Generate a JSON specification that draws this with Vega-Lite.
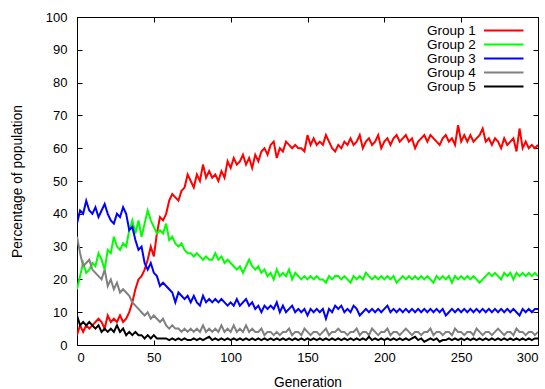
{
  "$schema": "https://vega.github.io/schema/vega-lite/v6.json",
  "width": 461,
  "height": 328,
  "autosize": "none",
  "padding": {"left": 77, "top": 17, "right": 7, "bottom": 44},
  "config": {
    "font": "Liberation Sans",
    "view": {"stroke": "black", "strokeWidth": 1},
    "axis": {"grid": false, "domain": false, "tickColor": "black", "tickSize": -5, "labelFontSize": 13, "labelColor": "black", "titleFontSize": 13.75, "titleFontWeight": "normal", "titleColor": "black", "labelFont": "Liberation Sans", "titleFont": "Liberation Sans"}
  },
  "data": {"values": [
    {"g":0,"Group 1":3,"Group 2":17,"Group 3":37,"Group 4":33,"Group 5":9},
    {"g":2,"Group 1":6,"Group 2":21,"Group 3":41,"Group 4":28,"Group 5":6},
    {"g":4,"Group 1":4,"Group 2":25,"Group 3":40,"Group 4":24,"Group 5":7},
    {"g":6,"Group 1":6,"Group 2":22,"Group 3":44,"Group 4":25,"Group 5":6},
    {"g":8,"Group 1":5,"Group 2":23,"Group 3":41,"Group 4":26,"Group 5":7},
    {"g":10,"Group 1":6,"Group 2":25,"Group 3":40,"Group 4":23,"Group 5":6},
    {"g":12,"Group 1":7,"Group 2":24,"Group 3":42,"Group 4":22,"Group 5":5},
    {"g":14,"Group 1":8,"Group 2":28,"Group 3":39,"Group 4":21,"Group 5":6},
    {"g":16,"Group 1":7,"Group 2":26,"Group 3":41,"Group 4":20,"Group 5":4},
    {"g":18,"Group 1":5,"Group 2":23,"Group 3":43,"Group 4":23,"Group 5":5},
    {"g":20,"Group 1":9,"Group 2":29,"Group 3":40,"Group 4":18,"Group 5":4},
    {"g":22,"Group 1":7,"Group 2":28,"Group 3":38,"Group 4":20,"Group 5":5},
    {"g":24,"Group 1":8,"Group 2":33,"Group 3":37,"Group 4":17,"Group 5":4},
    {"g":26,"Group 1":7,"Group 2":30,"Group 3":40,"Group 4":19,"Group 5":6},
    {"g":28,"Group 1":9,"Group 2":29,"Group 3":39,"Group 4":16,"Group 5":4},
    {"g":30,"Group 1":7,"Group 2":31,"Group 3":42,"Group 4":17,"Group 5":5},
    {"g":32,"Group 1":8,"Group 2":30,"Group 3":40,"Group 4":16,"Group 5":3},
    {"g":34,"Group 1":10,"Group 2":35,"Group 3":35,"Group 4":15,"Group 5":4},
    {"g":36,"Group 1":13,"Group 2":38,"Group 3":36,"Group 4":13,"Group 5":3},
    {"g":38,"Group 1":17,"Group 2":34,"Group 3":32,"Group 4":12,"Group 5":4},
    {"g":40,"Group 1":20,"Group 2":38,"Group 3":29,"Group 4":11,"Group 5":3},
    {"g":42,"Group 1":21,"Group 2":33,"Group 3":30,"Group 4":10,"Group 5":3},
    {"g":44,"Group 1":23,"Group 2":37,"Group 3":25,"Group 4":9,"Group 5":2},
    {"g":46,"Group 1":26,"Group 2":41,"Group 3":23,"Group 4":10,"Group 5":3},
    {"g":48,"Group 1":30,"Group 2":38,"Group 3":25,"Group 4":8,"Group 5":2},
    {"g":50,"Group 1":27,"Group 2":36,"Group 3":22,"Group 4":9,"Group 5":3},
    {"g":52,"Group 1":34,"Group 2":34,"Group 3":21,"Group 4":8,"Group 5":2},
    {"g":54,"Group 1":39,"Group 2":35,"Group 3":18,"Group 4":7,"Group 5":2},
    {"g":56,"Group 1":38,"Group 2":34,"Group 3":19,"Group 4":8,"Group 5":2},
    {"g":58,"Group 1":40,"Group 2":37,"Group 3":18,"Group 4":6,"Group 5":2},
    {"g":60,"Group 1":44,"Group 2":32,"Group 3":17,"Group 4":5,"Group 5":1.5},
    {"g":62,"Group 1":46,"Group 2":33,"Group 3":16,"Group 4":6,"Group 5":2},
    {"g":64,"Group 1":45,"Group 2":31,"Group 3":13,"Group 4":5,"Group 5":1.5},
    {"g":66,"Group 1":44,"Group 2":30,"Group 3":16,"Group 4":5,"Group 5":2},
    {"g":68,"Group 1":47,"Group 2":31,"Group 3":15,"Group 4":4,"Group 5":1.5},
    {"g":70,"Group 1":48,"Group 2":29,"Group 3":14,"Group 4":5,"Group 5":2},
    {"g":72,"Group 1":52,"Group 2":28,"Group 3":15,"Group 4":4,"Group 5":1.5},
    {"g":74,"Group 1":50,"Group 2":28,"Group 3":13,"Group 4":5,"Group 5":1.5},
    {"g":76,"Group 1":48,"Group 2":27,"Group 3":15,"Group 4":4,"Group 5":2},
    {"g":78,"Group 1":52,"Group 2":28,"Group 3":13,"Group 4":5,"Group 5":1.5},
    {"g":80,"Group 1":50,"Group 2":27,"Group 3":12,"Group 4":4,"Group 5":2},
    {"g":82,"Group 1":55,"Group 2":26,"Group 3":15,"Group 4":6,"Group 5":1.5},
    {"g":84,"Group 1":51,"Group 2":27,"Group 3":13,"Group 4":4,"Group 5":2},
    {"g":86,"Group 1":53,"Group 2":26,"Group 3":14,"Group 4":5,"Group 5":2.5},
    {"g":88,"Group 1":51,"Group 2":26,"Group 3":13,"Group 4":4,"Group 5":1.5},
    {"g":90,"Group 1":52,"Group 2":28,"Group 3":14,"Group 4":5,"Group 5":2},
    {"g":92,"Group 1":50,"Group 2":26,"Group 3":13,"Group 4":4,"Group 5":1.5},
    {"g":94,"Group 1":53,"Group 2":27,"Group 3":14,"Group 4":6,"Group 5":2},
    {"g":96,"Group 1":51,"Group 2":25,"Group 3":13,"Group 4":4,"Group 5":1.5},
    {"g":98,"Group 1":56,"Group 2":26,"Group 3":12,"Group 4":5,"Group 5":2},
    {"g":100,"Group 1":54,"Group 2":25,"Group 3":13,"Group 4":4,"Group 5":1.5},
    {"g":102,"Group 1":57,"Group 2":24,"Group 3":12,"Group 4":6,"Group 5":2},
    {"g":104,"Group 1":55,"Group 2":23,"Group 3":14,"Group 4":4,"Group 5":1.5},
    {"g":106,"Group 1":56,"Group 2":24,"Group 3":12,"Group 4":5,"Group 5":2},
    {"g":108,"Group 1":58,"Group 2":22,"Group 3":13,"Group 4":4,"Group 5":1.5},
    {"g":110,"Group 1":55,"Group 2":24,"Group 3":14,"Group 4":6,"Group 5":2},
    {"g":112,"Group 1":57,"Group 2":26,"Group 3":12,"Group 4":4,"Group 5":1.5},
    {"g":114,"Group 1":54,"Group 2":24,"Group 3":13,"Group 4":5,"Group 5":2},
    {"g":116,"Group 1":58,"Group 2":23,"Group 3":11,"Group 4":4,"Group 5":1.5},
    {"g":118,"Group 1":56,"Group 2":24,"Group 3":12,"Group 4":4,"Group 5":2},
    {"g":120,"Group 1":59,"Group 2":22,"Group 3":10,"Group 4":5,"Group 5":1.5},
    {"g":122,"Group 1":60,"Group 2":23,"Group 3":12,"Group 4":3,"Group 5":2},
    {"g":124,"Group 1":58,"Group 2":21,"Group 3":11,"Group 4":4,"Group 5":1.5},
    {"g":126,"Group 1":61,"Group 2":22,"Group 3":12,"Group 4":4,"Group 5":2},
    {"g":128,"Group 1":62,"Group 2":20,"Group 3":11,"Group 4":3,"Group 5":1.5},
    {"g":130,"Group 1":57,"Group 2":23,"Group 3":13,"Group 4":4,"Group 5":2},
    {"g":132,"Group 1":60,"Group 2":21,"Group 3":10,"Group 4":3,"Group 5":1.5},
    {"g":134,"Group 1":59,"Group 2":22,"Group 3":12,"Group 4":4,"Group 5":2},
    {"g":136,"Group 1":62,"Group 2":21,"Group 3":10,"Group 4":4,"Group 5":1.5},
    {"g":138,"Group 1":61,"Group 2":23,"Group 3":11,"Group 4":5,"Group 5":2},
    {"g":140,"Group 1":60,"Group 2":20,"Group 3":12,"Group 4":3,"Group 5":1.5},
    {"g":142,"Group 1":61,"Group 2":22,"Group 3":10,"Group 4":4,"Group 5":2},
    {"g":144,"Group 1":60,"Group 2":21,"Group 3":11,"Group 4":4,"Group 5":1.5},
    {"g":146,"Group 1":60,"Group 2":20,"Group 3":10,"Group 4":3,"Group 5":2},
    {"g":148,"Group 1":59,"Group 2":21,"Group 3":11,"Group 4":5,"Group 5":1.5},
    {"g":150,"Group 1":64,"Group 2":20,"Group 3":9,"Group 4":4,"Group 5":2},
    {"g":152,"Group 1":61,"Group 2":21,"Group 3":11,"Group 4":3,"Group 5":1.5},
    {"g":154,"Group 1":63,"Group 2":20,"Group 3":10,"Group 4":4,"Group 5":2},
    {"g":156,"Group 1":61,"Group 2":21,"Group 3":11,"Group 4":4,"Group 5":1.5},
    {"g":158,"Group 1":62,"Group 2":20,"Group 3":10,"Group 4":3,"Group 5":2},
    {"g":160,"Group 1":61,"Group 2":20,"Group 3":11,"Group 4":4,"Group 5":1.5},
    {"g":162,"Group 1":64,"Group 2":19,"Group 3":8,"Group 4":5,"Group 5":2},
    {"g":164,"Group 1":62,"Group 2":21,"Group 3":11,"Group 4":3,"Group 5":1.5},
    {"g":166,"Group 1":60,"Group 2":20,"Group 3":10,"Group 4":4,"Group 5":2},
    {"g":168,"Group 1":59,"Group 2":21,"Group 3":12,"Group 4":4,"Group 5":1.5},
    {"g":170,"Group 1":61,"Group 2":21,"Group 3":11,"Group 4":5,"Group 5":2},
    {"g":172,"Group 1":60,"Group 2":20,"Group 3":12,"Group 4":4,"Group 5":1.5},
    {"g":174,"Group 1":62,"Group 2":21,"Group 3":10,"Group 4":4,"Group 5":2},
    {"g":176,"Group 1":61,"Group 2":20,"Group 3":11,"Group 4":3,"Group 5":1.5},
    {"g":178,"Group 1":63,"Group 2":19,"Group 3":10,"Group 4":4,"Group 5":2},
    {"g":180,"Group 1":61,"Group 2":21,"Group 3":12,"Group 4":4,"Group 5":1.5},
    {"g":182,"Group 1":62,"Group 2":20,"Group 3":11,"Group 4":5,"Group 5":2},
    {"g":184,"Group 1":64,"Group 2":21,"Group 3":9,"Group 4":3,"Group 5":1.5},
    {"g":186,"Group 1":60,"Group 2":20,"Group 3":10,"Group 4":4,"Group 5":2},
    {"g":188,"Group 1":62,"Group 2":22,"Group 3":11,"Group 4":4,"Group 5":1.5},
    {"g":190,"Group 1":63,"Group 2":21,"Group 3":10,"Group 4":3,"Group 5":2.5},
    {"g":192,"Group 1":61,"Group 2":20,"Group 3":11,"Group 4":5,"Group 5":1.5},
    {"g":194,"Group 1":62,"Group 2":21,"Group 3":10,"Group 4":4,"Group 5":2},
    {"g":196,"Group 1":64,"Group 2":20,"Group 3":11,"Group 4":3,"Group 5":1.5},
    {"g":198,"Group 1":60,"Group 2":21,"Group 3":10,"Group 4":4,"Group 5":2},
    {"g":200,"Group 1":62,"Group 2":20,"Group 3":11,"Group 4":4,"Group 5":1.5},
    {"g":202,"Group 1":63,"Group 2":21,"Group 3":12,"Group 4":5,"Group 5":2},
    {"g":204,"Group 1":61,"Group 2":20,"Group 3":10,"Group 4":3,"Group 5":1.5},
    {"g":206,"Group 1":63,"Group 2":21,"Group 3":11,"Group 4":4,"Group 5":2},
    {"g":208,"Group 1":64,"Group 2":19,"Group 3":10,"Group 4":4,"Group 5":1.5},
    {"g":210,"Group 1":62,"Group 2":20,"Group 3":11,"Group 4":3,"Group 5":2},
    {"g":212,"Group 1":63,"Group 2":21,"Group 3":10,"Group 4":4,"Group 5":1.5},
    {"g":214,"Group 1":64,"Group 2":20,"Group 3":11,"Group 4":5,"Group 5":2},
    {"g":216,"Group 1":62,"Group 2":21,"Group 3":10,"Group 4":4,"Group 5":1.5},
    {"g":218,"Group 1":63,"Group 2":20,"Group 3":11,"Group 4":3,"Group 5":2},
    {"g":220,"Group 1":60,"Group 2":21,"Group 3":10,"Group 4":4,"Group 5":2.5},
    {"g":222,"Group 1":62,"Group 2":20,"Group 3":11,"Group 4":4,"Group 5":1.5},
    {"g":224,"Group 1":63,"Group 2":21,"Group 3":10,"Group 4":3,"Group 5":2},
    {"g":226,"Group 1":64,"Group 2":20,"Group 3":11,"Group 4":4,"Group 5":1},
    {"g":228,"Group 1":62,"Group 2":21,"Group 3":10,"Group 4":4,"Group 5":1.5},
    {"g":230,"Group 1":64,"Group 2":20,"Group 3":11,"Group 4":5,"Group 5":2},
    {"g":232,"Group 1":63,"Group 2":19,"Group 3":10,"Group 4":3,"Group 5":1.5},
    {"g":234,"Group 1":62,"Group 2":21,"Group 3":11,"Group 4":4,"Group 5":2},
    {"g":236,"Group 1":61,"Group 2":20,"Group 3":10,"Group 4":4,"Group 5":1},
    {"g":238,"Group 1":63,"Group 2":21,"Group 3":11,"Group 4":3,"Group 5":1.5},
    {"g":240,"Group 1":64,"Group 2":20,"Group 3":9,"Group 4":4,"Group 5":1.5},
    {"g":242,"Group 1":62,"Group 2":21,"Group 3":10,"Group 4":4,"Group 5":2},
    {"g":244,"Group 1":63,"Group 2":19,"Group 3":11,"Group 4":3,"Group 5":1.5},
    {"g":246,"Group 1":61,"Group 2":21,"Group 3":10,"Group 4":5,"Group 5":2},
    {"g":248,"Group 1":67,"Group 2":20,"Group 3":11,"Group 4":4,"Group 5":1.5},
    {"g":250,"Group 1":62,"Group 2":21,"Group 3":10,"Group 4":4,"Group 5":2},
    {"g":252,"Group 1":64,"Group 2":20,"Group 3":11,"Group 4":3,"Group 5":1.5},
    {"g":254,"Group 1":62,"Group 2":21,"Group 3":10,"Group 4":4,"Group 5":2},
    {"g":256,"Group 1":64,"Group 2":20,"Group 3":11,"Group 4":4,"Group 5":1.5},
    {"g":258,"Group 1":62,"Group 2":21,"Group 3":10,"Group 4":3,"Group 5":2},
    {"g":260,"Group 1":63,"Group 2":20,"Group 3":11,"Group 4":5,"Group 5":1.5},
    {"g":262,"Group 1":64,"Group 2":19,"Group 3":10,"Group 4":4,"Group 5":2},
    {"g":264,"Group 1":66,"Group 2":20,"Group 3":11,"Group 4":3,"Group 5":1.5},
    {"g":266,"Group 1":62,"Group 2":21,"Group 3":10,"Group 4":4,"Group 5":2},
    {"g":268,"Group 1":63,"Group 2":22,"Group 3":11,"Group 4":4,"Group 5":1.5},
    {"g":270,"Group 1":61,"Group 2":21,"Group 3":10,"Group 4":3,"Group 5":2},
    {"g":272,"Group 1":63,"Group 2":22,"Group 3":11,"Group 4":4,"Group 5":1.5},
    {"g":274,"Group 1":62,"Group 2":21,"Group 3":10,"Group 4":5,"Group 5":2},
    {"g":276,"Group 1":60,"Group 2":20,"Group 3":11,"Group 4":4,"Group 5":1.5},
    {"g":278,"Group 1":63,"Group 2":22,"Group 3":10,"Group 4":3,"Group 5":2},
    {"g":280,"Group 1":61,"Group 2":21,"Group 3":11,"Group 4":4,"Group 5":1.5},
    {"g":282,"Group 1":62,"Group 2":22,"Group 3":10,"Group 4":4,"Group 5":2},
    {"g":284,"Group 1":63,"Group 2":20,"Group 3":11,"Group 4":3,"Group 5":1.5},
    {"g":286,"Group 1":59,"Group 2":22,"Group 3":10,"Group 4":5,"Group 5":2},
    {"g":288,"Group 1":66,"Group 2":21,"Group 3":9,"Group 4":4,"Group 5":1.5},
    {"g":290,"Group 1":60,"Group 2":22,"Group 3":11,"Group 4":4,"Group 5":2},
    {"g":292,"Group 1":62,"Group 2":21,"Group 3":10,"Group 4":3,"Group 5":1.5},
    {"g":294,"Group 1":60,"Group 2":22,"Group 3":11,"Group 4":4,"Group 5":2},
    {"g":296,"Group 1":61,"Group 2":21,"Group 3":10,"Group 4":4,"Group 5":1.5},
    {"g":298,"Group 1":60,"Group 2":22,"Group 3":11,"Group 4":3,"Group 5":2},
    {"g":300,"Group 1":61,"Group 2":21,"Group 3":11,"Group 4":4,"Group 5":2}
  ]},
  "transform": [{"fold": ["Group 1", "Group 2", "Group 3", "Group 4", "Group 5"], "as": ["group", "value"]}],
  "layer": [
    {
      "mark": {"type": "line", "strokeWidth": 2, "clip": true},
      "encoding": {
        "x": {"field": "g", "type": "quantitative", "scale": {"domain": [0, 300], "nice": false},
              "axis": {"values": [0, 50, 100, 150, 200, 250, 300], "title": "Generation", "labelPadding": 11, "titlePadding": 11}},
        "y": {"field": "value", "type": "quantitative", "scale": {"domain": [0, 100], "nice": false},
              "axis": {"values": [0, 10, 20, 30, 40, 50, 60, 70, 80, 90, 100], "title": "Percentage of population", "labelPadding": 15, "titlePadding": 21}},
        "color": {"field": "group", "type": "nominal",
                  "scale": {"domain": ["Group 1", "Group 2", "Group 3", "Group 4", "Group 5"], "range": ["#ff0000", "#00ff00", "#0000ff", "#808080", "#000000"]},
                  "legend": {"orient": "none", "legendX": 420, "legendY": 6.8, "title": null, "symbolType": "M-10,0H10", "symbolSize": 15.6, "symbolStrokeWidth": 2, "symbolFillColor": "transparent", "labelAlign": "right", "labelOffset": -34.7, "labelFontSize": 13.5, "labelColor": "black", "padding": 0, "rowPadding": -1.3}}
      }
    },
    {
      "mark": {"type": "line", "opacity": 0},
      "encoding": {
        "x": {"field": "g", "type": "quantitative", "axis": {"orient": "top", "values": [0, 50, 100, 150, 200, 250, 300], "labels": false, "title": null}},
        "y": {"field": "value", "type": "quantitative", "axis": {"orient": "right", "values": [0, 10, 20, 30, 40, 50, 60, 70, 80, 90, 100], "labels": false, "title": null}}
      }
    }
  ],
  "resolve": {"axis": {"x": "independent", "y": "independent"}}
}
